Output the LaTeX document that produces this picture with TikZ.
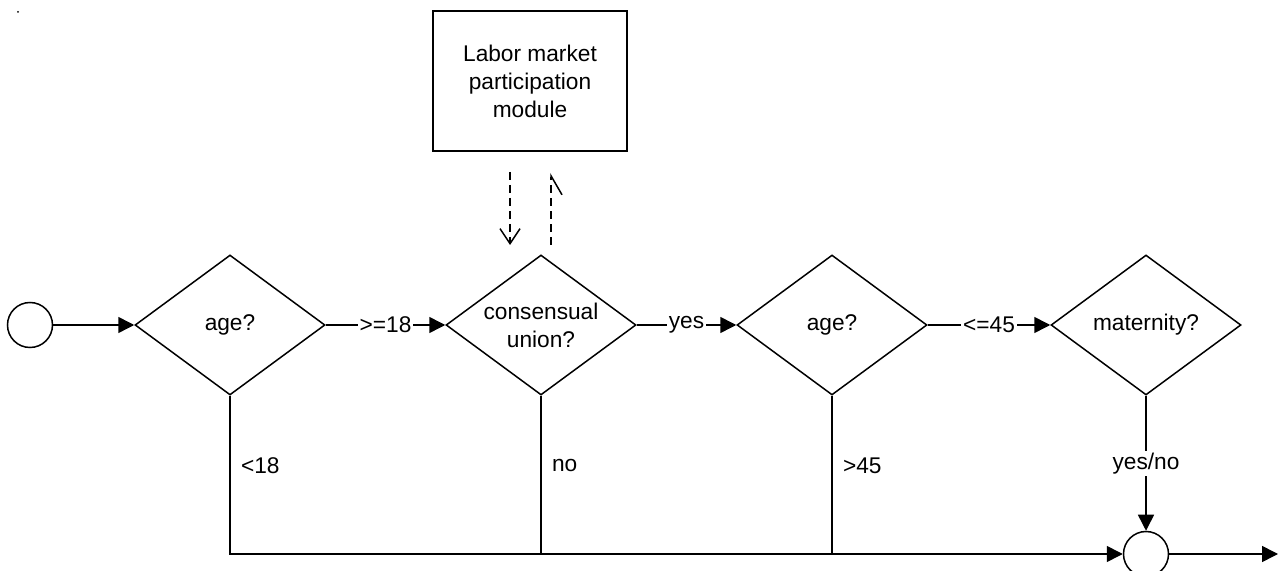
\documentclass[tikz,border=0pt]{standalone}
\usepackage{fontspec}
\setmainfont{Liberation Sans}
\usetikzlibrary{shapes.geometric,arrows.meta}
\begin{document}
\begin{tikzpicture}[x=0.5pt,y=-0.5pt,
  every node/.style={font=\fontsize{11.35}{14}\selectfont},
  line/.style={line width=0.75pt},
  arr/.style={line, -{Triangle[length=8pt,width=8pt]}},
  dec/.style={diamond, draw, line width=0.75pt, minimum width=95pt, minimum height=70pt, inner sep=0pt, aspect=1.357, align=center},
  term/.style={circle, draw, line width=0.75pt, minimum size=22.5pt, inner sep=0pt},
  lbl/.style={fill=white, inner sep=1pt},
  dsh/.style={line, dash pattern=on 4pt off 2.5pt}
]
\useasboundingbox (0,0) rectangle (1280,571);
\fill (18,12) circle (0.5pt);
\node[term] (c1) at (30,325) {};
\node[dec] (d1) at (230,325) {age?};
\node[dec] (d2) at (541,325) {consensual\\union?};
\node[dec] (d3) at (832,325) {age?};
\node[dec] (d4) at (1146,325) {maternity?};
\node[term] (c2) at (1146,554) {};
\node[draw, line width=0.75pt, minimum width=97pt, minimum height=70pt, align=center] (lm) at (530,81) {Labor market\\participation\\module};
\coordinate (out) at (1278,554);
\coordinate (dnA) at (510,172);
\coordinate (dnB) at (510,245);
\coordinate (upA) at (551,245);
\coordinate (upB) at (551,173);

\draw[arr] (c1) -- (d1.west);
\draw[arr] (d1.east) -- node[lbl]{>=18} (d2.west);
\draw[arr] (d2.east) -- node[lbl]{yes} (d3.west);
\draw[arr] (d3.east) -- node[lbl]{<=45} (d4.west);
\draw[arr] (d4.south) -- node[lbl]{yes/no} (c2.north);
\draw[arr] (d1.south) |- (c2.west);
\draw[line] (d2.south) -- (d2.south |- c2);
\draw[line] (d3.south) -- (d3.south |- c2);
\draw[arr] (c2.east) -- (out);
\path (d1.south) -- (d1.south |- c2) node[pos=0.44, right=2pt] (l1) {<18};
\path (d2.south) -- (d2.south |- c2) node[pos=0.44, right=2pt] (l2) {no};
\path (d3.south) -- (d3.south |- c2) node[pos=0.44, right=2pt] (l3) {>45};
\draw[dsh, -{Straight Barb[length=7.5pt,width=10pt]}] (dnA) -- (dnB);
\draw[dsh, -{Straight Barb[right,length=9.5pt,width=11pt]}] (upA) -- (upB);
\end{tikzpicture}
\end{document}
